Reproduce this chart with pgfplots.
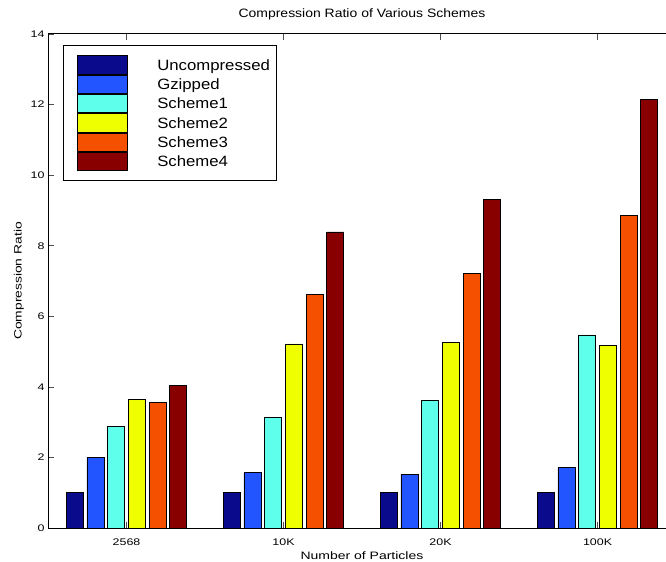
\documentclass[border=0pt]{standalone}
\usepackage{fontspec}
\setmainfont{Liberation Sans}
\newfontfamily\axisfont[FakeStretch=1.3]{Liberation Sans}
\newfontfamily\titlefont[FakeStretch=1.15]{Liberation Sans}
\newfontfamily\legendfont[FakeStretch=1.12]{Liberation Sans}
\usepackage{pgfplots}
\pgfplotsset{compat=1.18}
\definecolor{c1}{RGB}{10,10,140}
\definecolor{c2}{RGB}{34,85,255}
\definecolor{c3}{RGB}{94,255,235}
\definecolor{c4}{RGB}{240,255,0}
\definecolor{c5}{RGB}{245,80,0}
\definecolor{c6}{RGB}{136,0,0}
\begin{document}
\begin{tikzpicture}
\useasboundingbox (-48bp,-34bp) rectangle (618bp,528bp);
\begin{axis}[
  at={(0,0)}, anchor=south west,
  scale only axis, width=618bp, height=494bp,
  ybar=3.7bp, bar width=17bp,
  xmin=0.5, xmax=4.436, ymin=0, ymax=14,
  axis y line*=left,
  axis line style={line width=1bp, black},
  tick align=inside, major tick length=6bp,
  tick style={line width=0.6bp, black!70},
  xtick={1,2,3,4}, xticklabels={2568,10K,20K,100K},
  ytick={0,2,...,14},
  /pgf/number format/assume math mode=true,
  ticklabel style={font=\axisfont\fontsize{9.6}{12}\selectfont},
  xticklabel style={anchor=base, yshift=-17bp},
  title={Compression Ratio of Various Schemes},
  title style={at={(axis description cs:0.508,1)}, anchor=base, yshift=10.7bp, font=\titlefont\fontsize{12.2}{14}\selectfont},
  xlabel={Number of Particles},
  xlabel style={at={(axis description cs:0.508,0)}, anchor=base, yshift=-31.5bp, font=\axisfont\fontsize{10.8}{13}\selectfont},
  ylabel={Compression Ratio},
  ylabel style={at={(axis description cs:-0.04256,0.5)}, anchor=base, rotate=0, font=\axisfont\fontsize{10.7}{13}\selectfont},
  legend image code/.code={\path (0,0); \draw[#1, line width=0.8bp] (6.7bp,-9.25bp) rectangle (56.7bp,9.25bp);},
  legend style={at={(axis description cs:0.0243,0.9777)}, anchor=north west,
    draw=black, line width=1.2bp, inner xsep=6.3bp, inner ysep=9.7bp,
    row sep=0pt, column sep=30bp,
    font=\legendfont\fontsize{15}{18}\selectfont,
    nodes={inner sep=0pt, text height=12.5bp, text depth=2bp}},
  legend cell align=left,
]
\addplot[draw=black, line width=0.6bp, fill=c1] coordinates {(1,1.00) (2,1.00) (3,1.00) (4,1.00)};
\addplot[draw=black, line width=0.6bp, fill=c2] coordinates {(1,2.01) (2,1.57) (3,1.52) (4,1.71)};
\addplot[draw=black, line width=0.6bp, fill=c3] coordinates {(1,2.89) (2,3.13) (3,3.61) (4,5.47)};
\addplot[draw=black, line width=0.6bp, fill=c4] coordinates {(1,3.65) (2,5.22) (3,5.26) (4,5.18)};
\addplot[draw=black, line width=0.6bp, fill=c5] coordinates {(1,3.57) (2,6.61) (3,7.21) (4,8.87)};
\addplot[draw=black, line width=0.6bp, fill=c6] coordinates {(1,4.05) (2,8.39) (3,9.32) (4,12.15)};
\legend{Uncompressed,Gzipped,Scheme1,Scheme2,Scheme3,Scheme4}
\end{axis}
\end{tikzpicture}
\end{document}
